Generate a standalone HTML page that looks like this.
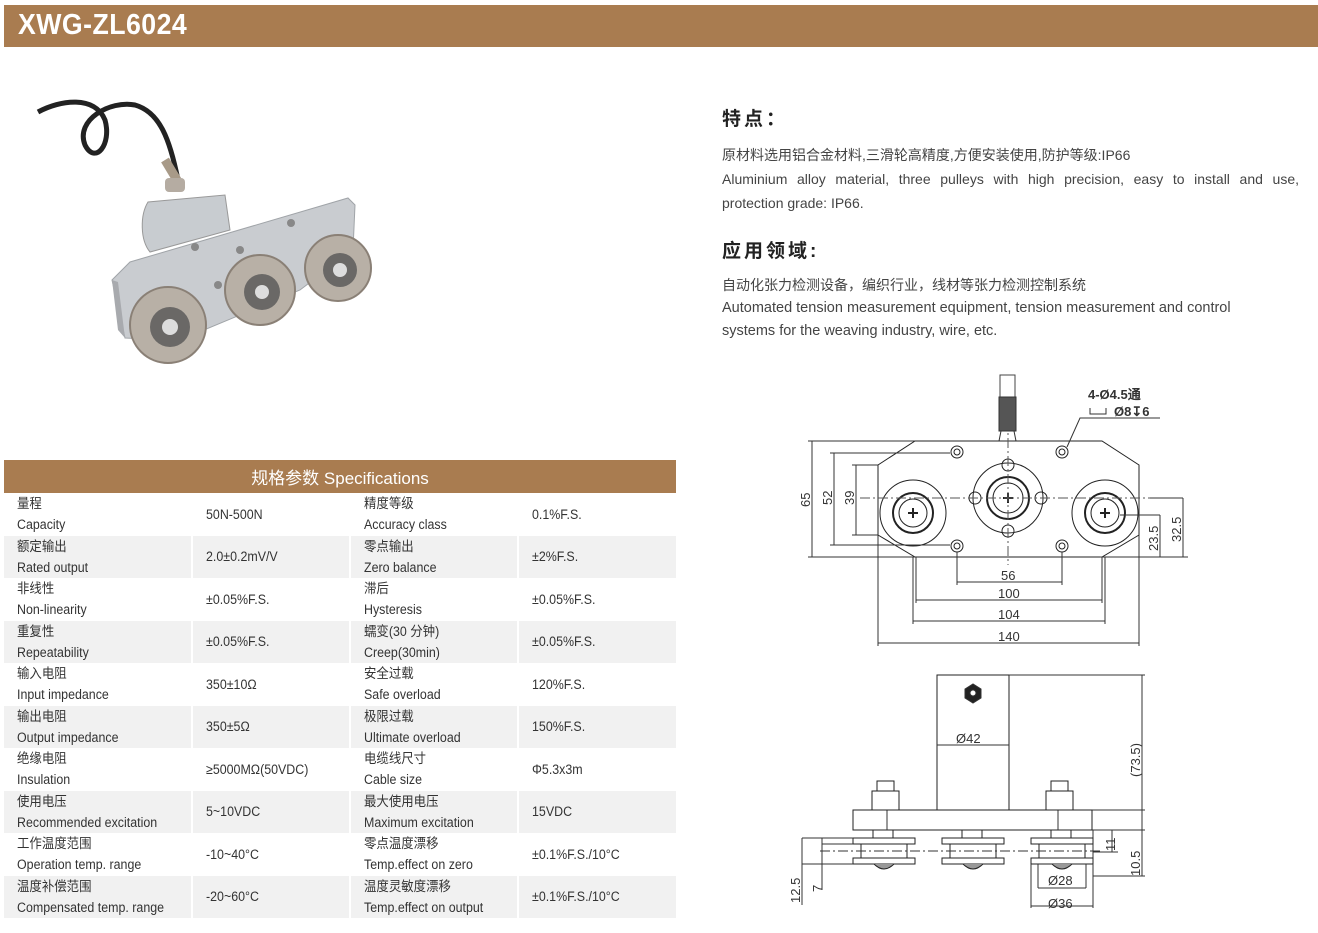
<!DOCTYPE html>
<html><head><meta charset="utf-8">
<style>
*{margin:0;padding:0;box-sizing:border-box}
body{width:1318px;height:933px;background:#fff;position:relative;overflow:hidden;font-family:"Liberation Sans","Noto Sans CJK SC",sans-serif;color:#333}
.hdr{position:absolute;left:4px;top:5px;width:1314px;height:42px;background:#a97c50}
.hdr span{position:absolute;left:14px;top:4px;color:#fff;font-size:29px;font-weight:bold;letter-spacing:0.5px;transform:scaleX(0.92);transform-origin:left}
.t{position:absolute;white-space:nowrap;font-size:14px;color:#444}
table{position:absolute;left:4px;top:460px;width:672px;border-collapse:collapse}
th{background:#a97c50;color:#fff;font-weight:normal;font-size:17px;height:33px}
td{height:42.5px;font-size:13.5px;color:#333;border-left:2px solid #fff;vertical-align:middle;padding-left:13px;line-height:21px;white-space:nowrap}
tr:nth-child(odd) td{background:#f1f1f1}
td:first-child{border-left:none}
td div{transform:scaleX(0.92);transform-origin:left}
</style></head><body>
<div class="hdr"><span>XWG-ZL6024</span></div>

<svg style="position:absolute;left:0;top:0" width="700" height="460">
<path d="M38,112 C60,100 95,95 105,120 C112,145 95,165 85,145 C75,120 110,100 135,105 C160,112 170,140 178,180" fill="none" stroke="#222" stroke-width="5"/>
<path d="M165,160 L180,185" stroke="#a89a88" stroke-width="9"/>
<rect x="165" y="178" width="20" height="14" fill="#b5aca2" rx="4"/>
<path d="M148,202 C140,215 140,240 150,252 L230,230 L225,195 Z" fill="#c8ccd0" stroke="#999"/>
<polygon points="112,280 130,262 348,198 355,205 353,250 300,290 180,340 125,338" fill="#c9ccd0" stroke="#a0a4a8"/>
<polygon points="112,280 118,330 125,338 118,282" fill="#a8aaae"/>
<g fill="#b8b0a6" stroke="#8a8076" stroke-width="2">
<circle cx="168" cy="325" r="38"/><circle cx="260" cy="290" r="35"/><circle cx="338" cy="268" r="33"/></g>
<g fill="#6a6866"><circle cx="170" cy="327" r="20"/><circle cx="262" cy="292" r="18"/><circle cx="340" cy="270" r="17"/></g>
<g fill="#ddd"><circle cx="170" cy="327" r="8"/><circle cx="262" cy="292" r="7"/><circle cx="340" cy="270" r="7"/></g>
<g fill="#888"><circle cx="195" cy="247" r="4"/><circle cx="291" cy="223" r="4"/><circle cx="240" cy="250" r="4"/><circle cx="218" cy="285" r="4"/></g>
</svg>

<div class="t" style="left:722px;top:104px;font-size:19px;font-weight:bold;color:#222;letter-spacing:3px">特点：</div>
<div class="t" style="left:722px;top:145px">原材料选用铝合金材料,三滑轮高精度,方便安装使用,防护等级:IP66</div>
<div class="t" style="left:722px;top:171px;width:577px;text-align:justify;text-align-last:justify;white-space:normal">Aluminium alloy material, three pulleys with high precision, easy to install and use,</div>
<div class="t" style="left:722px;top:195px">protection grade: IP66.</div>
<div class="t" style="left:722px;top:236px;font-size:19px;font-weight:bold;color:#222;letter-spacing:3px">应用领域:</div>
<div class="t" style="left:722px;top:275px">自动化张力检测设备，编织行业，线材等张力检测控制系统</div>
<div class="t" style="left:722px;top:300px;font-size:14.5px">Automated tension measurement equipment, tension measurement and control</div>
<div class="t" style="left:722px;top:323px;font-size:14.5px">systems for the weaving industry, wire, etc.</div>

<table>
<tr><th colspan="4">规格参数 Specifications</th></tr>
<tr><td style="width:188px"><div>量程<br>Capacity</div></td><td style="width:158px"><div>50N-500N</div></td><td style="width:168px"><div>精度等级<br>Accuracy class</div></td><td><div>0.1%F.S.</div></td></tr>
<tr><td><div>额定输出<br>Rated output</div></td><td><div>2.0±0.2mV/V</div></td><td><div>零点输出<br>Zero balance</div></td><td><div>±2%F.S.</div></td></tr>
<tr><td><div>非线性<br>Non-linearity</div></td><td><div>±0.05%F.S.</div></td><td><div>滞后<br>Hysteresis</div></td><td><div>±0.05%F.S.</div></td></tr>
<tr><td><div>重复性<br>Repeatability</div></td><td><div>±0.05%F.S.</div></td><td><div>蠕变(30 分钟)<br>Creep(30min)</div></td><td><div>±0.05%F.S.</div></td></tr>
<tr><td><div>输入电阻<br>Input impedance</div></td><td><div>350±10Ω</div></td><td><div>安全过载<br>Safe overload</div></td><td><div>120%F.S.</div></td></tr>
<tr><td><div>输出电阻<br>Output impedance</div></td><td><div>350±5Ω</div></td><td><div>极限过载<br>Ultimate overload</div></td><td><div>150%F.S.</div></td></tr>
<tr><td><div>绝缘电阻<br>Insulation</div></td><td><div>≥5000MΩ(50VDC)</div></td><td><div>电缆线尺寸<br>Cable size</div></td><td><div>Φ5.3x3m</div></td></tr>
<tr><td><div>使用电压<br>Recommended excitation</div></td><td><div>5~10VDC</div></td><td><div>最大使用电压<br>Maximum excitation</div></td><td><div>15VDC</div></td></tr>
<tr><td><div>工作温度范围<br>Operation temp. range</div></td><td><div>-10~40°C</div></td><td><div>零点温度漂移<br>Temp.effect on zero</div></td><td><div>±0.1%F.S./10°C</div></td></tr>
<tr><td><div>温度补偿范围<br>Compensated temp. range</div></td><td><div>-20~60°C</div></td><td><div>温度灵敏度漂移<br>Temp.effect on output</div></td><td><div>±0.1%F.S./10°C</div></td></tr>
</table>

<svg style="position:absolute;left:0;top:0" width="1318" height="933" font-family="Liberation Sans, sans-serif" font-size="13" fill="none" stroke="#333" stroke-width="1">
<rect x="1000" y="375" width="15" height="22" stroke="#444"/>
<rect x="999" y="397" width="17" height="34" fill="#555"/>
<path d="M1001,431 L999,441 M1014,431 L1016,441"/>
<polygon points="915,441 1102,441 1139,465 1139,535 1102,557 915,557 878,535 878,465" stroke="#222"/>
<g stroke="#222"><circle cx="913" cy="513" r="33"/><circle cx="1105" cy="513" r="33"/><circle cx="1008" cy="498" r="35"/>
<circle cx="913" cy="513" r="20" stroke-width="2"/><circle cx="1105" cy="513" r="20" stroke-width="2"/><circle cx="1008" cy="498" r="21" stroke-width="2"/>
<circle cx="913" cy="513" r="14"/><circle cx="1105" cy="513" r="14"/><circle cx="1008" cy="498" r="15"/>
<circle cx="1008" cy="465" r="6"/><circle cx="1008" cy="531" r="6"/><circle cx="975" cy="498" r="6"/><circle cx="1041" cy="498" r="6"/>
<circle cx="957" cy="452" r="6"/><circle cx="957" cy="452" r="3"/><circle cx="1062" cy="452" r="6"/><circle cx="1062" cy="452" r="3"/>
<circle cx="957" cy="546" r="6"/><circle cx="957" cy="546" r="3"/><circle cx="1062" cy="546" r="6"/><circle cx="1062" cy="546" r="3"/></g>
<g stroke-width="2" stroke="#222"><path d="M908,513h10M913,508v10M1100,513h10M1105,508v10M1003,498h10M1008,493v10"/></g>
<path d="M860,498 H1150 M1008,420 V565" stroke-dasharray="10,3,2,3" stroke="#555"/>
<path d="M808,441 H915 M830,453 H950 M852,465 H878 M808,557 H915 M830,545 H950 M852,535 H878"/>
<path d="M812,441 V557 M834,453 V545 M856,465 V535"/>
<path d="M1160,515 H1120 M1183,498 H1150 M1100,557 H1188 M1160,515 V557 M1183,498 V557"/>
<path d="M957,552 V585 M1062,552 V585 M916,557 V603 M1102,557 V603 M913,557 V624 M1105,557 V624 M878,535 V646 M1139,535 V646"/>
<path d="M957,582 H1062 M916,600 H1102 M913,621 H1105 M878,643 H1139"/>
<path d="M1067,447 L1080,418 H1160"/>
<g fill="#333" stroke="none" font-size="13">
<text x="1001" y="580">56</text><text x="998" y="598">100</text><text x="998" y="619">104</text><text x="998" y="641">140</text>
<text transform="translate(810,507) rotate(-90)">65</text><text transform="translate(832,505) rotate(-90)">52</text><text transform="translate(854,505) rotate(-90)">39</text>
<text transform="translate(1158,551) rotate(-90)">23.5</text><text transform="translate(1181,542) rotate(-90)">32.5</text>
<text x="1088" y="399" font-weight="bold">4-Ø4.5通</text><text x="1114" y="416" font-weight="bold">Ø8↧6</text>
</g>
<path d="M1090,408 V414 H1106 V408"/>
<rect x="937" y="675" width="72" height="135" stroke="#222"/>
<polygon points="965,689 973,684 981,689 981,698 973,703 965,698" fill="#222"/>
<circle cx="973" cy="693" r="3" fill="#fff"/>
<path d="M937,745 H1009 M1009,675 H1145 M1142,675 V876 M1092,810 H1145 M1092,830 H1145 M1093,830 V876 H1145 M1112,830 V852 M1093,852 H1118"/>
<rect x="853" y="810" width="239" height="20" stroke="#222"/>
<path d="M887,810 V830 M1058,810 V830"/>
<g stroke="#222">
<rect x="877" y="781" width="17" height="10"/><rect x="872" y="791" width="27" height="19"/>
<rect x="1051" y="781" width="17" height="10"/><rect x="1046" y="791" width="27" height="19"/>
<rect x="853" y="838" width="62" height="6"/><rect x="853" y="858" width="62" height="6"/><rect x="861" y="844" width="46" height="14"/>
<rect x="942" y="838" width="62" height="6"/><rect x="942" y="858" width="62" height="6"/><rect x="950" y="844" width="46" height="14"/>
<rect x="1031" y="838" width="62" height="6"/><rect x="1031" y="858" width="62" height="6"/><rect x="1039" y="844" width="46" height="14"/>
<path d="M873,830 V838 M893,830 V838 M962,830 V838 M982,830 V838 M1051,830 V838 M1071,830 V838"/>
<path d="M874,864 Q884,874 894,864 M963,864 Q973,874 983,864 M1052,864 Q1062,874 1072,864" fill="#999"/>
</g>
<path d="M820,851 H1100" stroke-dasharray="10,3,2,3"/>
<path d="M802,838 V905 M802,838 H853 M802,864 H853 M822,838 V890 M822,844 H853 M1038,864 V888 M1086,864 V888 M1038,888 H1086 M1031,864 V908 M1093,864 V908 M1031,906 H1093"/>
<g fill="#333" stroke="none" font-size="13">
<text x="956" y="743">Ø42</text><text x="1048" y="885">Ø28</text><text x="1048" y="908">Ø36</text>
<text transform="translate(1140,760) rotate(-90)" text-anchor="middle" dy="0">(73.5)</text>
<text transform="translate(1115,851) rotate(-90)">11</text><text transform="translate(1140,876) rotate(-90)">10.5</text>
<text transform="translate(800,903) rotate(-90)">12.5</text><text transform="translate(822,892) rotate(-90)">7</text>
</g>
</svg>
</body></html>
